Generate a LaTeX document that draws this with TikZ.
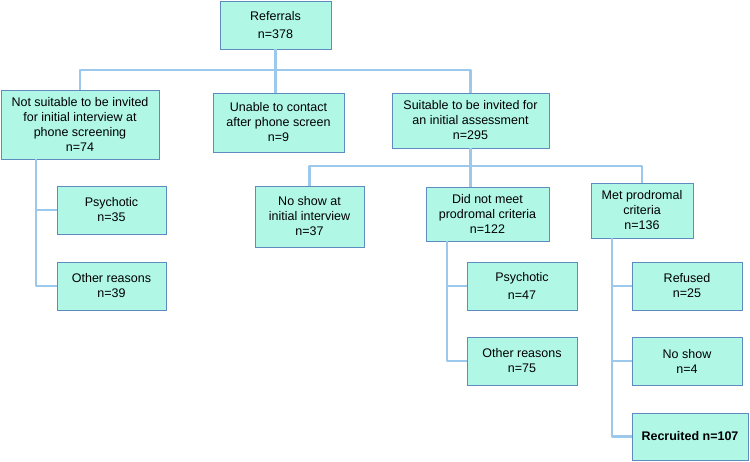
\documentclass[tikz,border=0pt]{standalone}
\usepackage{fontspec}
\setmainfont{Liberation Sans}
\usepackage{xcolor}
\usepackage{tikz}
\usetikzlibrary{positioning,calc}
\definecolor{boxfill}{HTML}{B0F7E6}
\definecolor{boxline}{HTML}{5E8CC0}
\definecolor{linkblue}{HTML}{9CC8EC}
\tikzstyle{box} = [rectangle, draw=boxline, line width=0.9pt, fill=boxfill, align=center, inner sep=0pt, font=\fontsize{12.5}{15}\selectfont]
\tikzstyle{link} = [draw=linkblue, line width=2.6pt, line join=round]

\begin{document}
\begin{tikzpicture}[x=1pt,y=-1pt]
\useasboundingbox (0,0) rectangle (750,462);
\coordinate (bus1) at (275,70);
\coordinate (bus2) at (470,166);
\coordinate (sp1) at (36,0);
\coordinate (sp2) at (447,0);
\coordinate (sp3) at (612,0);
\node[box, minimum width=111, minimum height=48] (ref) at (275.5,25) {Referrals\\[3pt]n=378};
\node[box, minimum width=158, minimum height=69] (nots) at (80,124.5) {Not suitable to be invited\\for initial interview at\\phone screening\\n=74};
\node[box, minimum width=131, minimum height=59] (unable) at (278.5,122.5) {Unable to contact\\after phone screen\\n=9};
\node[box, minimum width=157, minimum height=55] (suit) at (470.5,120.5) {Suitable to be invited for\\an initial assessment\\n=295};
\node[box, minimum width=109, minimum height=61] (noshow) at (309.5,216.5) {No show at\\initial interview\\n=37};
\node[box, minimum width=123, minimum height=54] (didnot) at (487.5,214) {Did not meet\\prodromal criteria\\n=122};
\node[box, minimum width=102, minimum height=55] (met) at (642,210.5) {Met prodromal\\criteria\\n=136};
\node[box, minimum width=109, minimum height=48] (psyA) at (111.5,210) {Psychotic\\n=35};
\node[box, minimum width=109, minimum height=48] (othA) at (111.5,286) {Other reasons\\n=39};
\node[box, minimum width=110, minimum height=48] (psyB) at (522,286) {Psychotic\\[3pt]n=47};
\node[box, minimum width=110, minimum height=48] (othB) at (522,361) {Other reasons\\n=75};
\node[box, minimum width=110, minimum height=48] (refused) at (687,286) {Refused\\n=25};
\node[box, minimum width=110, minimum height=48] (noshowB) at (687,361) {No show\\n=4};
\node[box, minimum width=116, minimum height=47, font=\fontsize{12.5}{15}\selectfont\bfseries] (recr) at (690,436.5) {Recruited n=107};

\draw[link] (ref.south) -- (ref.south |- unable.north);
\draw[link] (nots.north) |- (bus1) -| (suit.north);
\draw[link] (suit.south) -- (suit.south |- didnot.north);
\draw[link] (noshow.north) |- (bus2) -| (met.north);
\draw[link] (sp1 |- nots.south) |- (othA.west);
\draw[link] (sp1 |- psyA.west) -- (psyA.west);
\draw[link] (sp2 |- didnot.south) |- (othB.west);
\draw[link] (sp2 |- psyB.west) -- (psyB.west);
\draw[link] (sp3 |- met.south) |- (recr.west);
\draw[link] (sp3 |- refused.west) -- (refused.west);
\draw[link] (sp3 |- noshowB.west) -- (noshowB.west);
\end{tikzpicture}
\end{document}
